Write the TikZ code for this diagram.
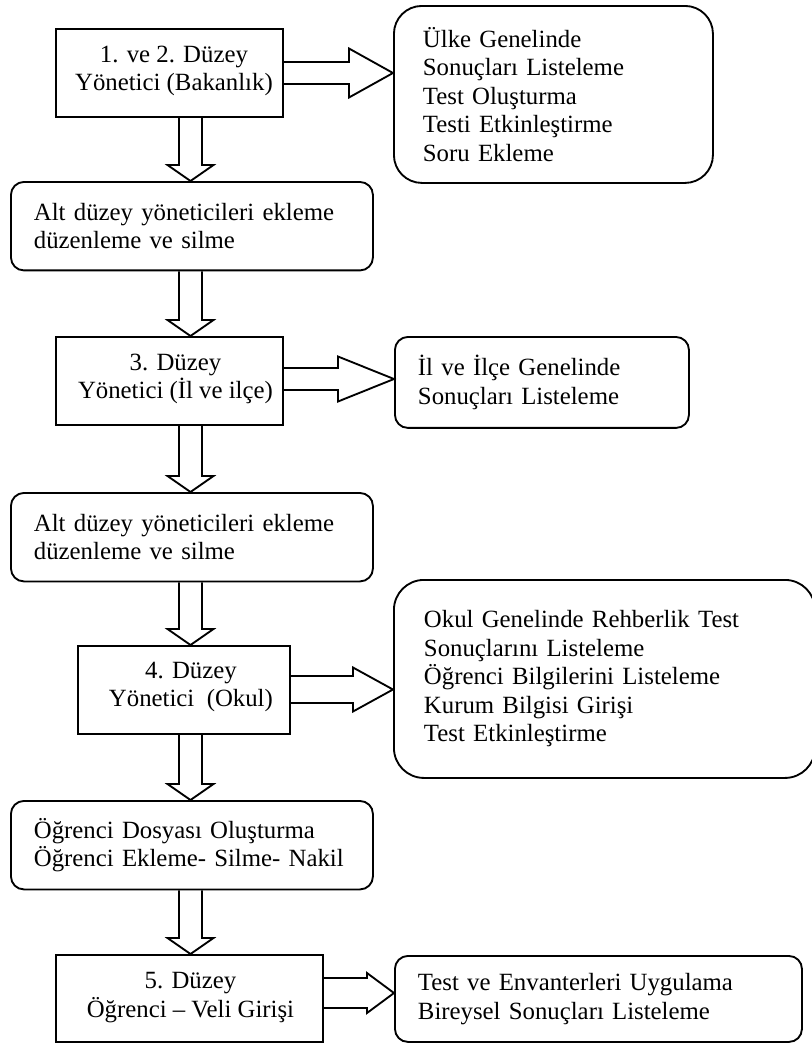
\documentclass[tikz,border=0pt]{standalone}
\usepackage{fontspec}
\setmainfont{Liberation Serif}
\usetikzlibrary{calc}
\tikzset{
  fnt/.style={font=\fontsize{12pt}{13.8pt}\selectfont},
  base/.style={draw, line width=0.9pt, inner ysep=0pt, fnt},
  rectb/.style={base, anchor=north west, minimum height=42.59pt},
  rtext/.style={fnt, align=center, inner sep=0pt},
  lbox/.style={base, anchor=north west, rounded corners=6.3pt, align=left,
               minimum width=175.21pt, minimum height=42.83pt, inner xsep=11.13pt, text width=152.94pt},
  rbox/.style={base, anchor=north west, align=left},
  blk/.style={draw, line width=0.9pt, line join=miter}
}
\newcommand\downblk[2]{%
  \path (190.5,0 |- #1.south) coordinate (dt) (190.5,0 |- #2.north) coordinate (dh);
  \draw[blk] ($(dt)+(-11.5,0)$) -- ($(dh)+(-11.5,-16)$) -- ($(dh)+(-23,-16)$) -- (dh)
     -- ($(dh)+(23,-16)$) -- ($(dh)+(11.5,-16)$) -- ($(dt)+(11.5,0)$);}
\newcommand\rightblk[6]{%
  \path (#1.east |- 0,#3) coordinate (rt) (#2.west |- 0,#3) coordinate (rh);
  \draw[blk] ($(rt)+(0,-#4)$) -- ($(rh)+(-#6,-#4)$) -- ($(rh)+(-#6,-#5)$) -- (rh)
     -- ($(rh)+(-#6,#5)$) -- ($(rh)+(-#6,#4)$) -- ($(rt)+(0,#4)$);}
\begin{document}
\begin{tikzpicture}[x=0.484pt, y=-0.484pt]
\useasboundingbox (0,0) rectangle (812,1043);

% left column
\node[rectb, minimum width=109.87pt] (b1) at (55,28) {};
\node[rtext] (b1t) at ($(b1.center)+(4.5,-2)$) {1. ve 2. Düzey\\Yönetici (Bakanlık)};
\node[lbox] (b2) at (10,181) {Alt düzey yöneticileri ekleme\\düzenleme ve silme};
\node[rectb, minimum width=109.87pt] (b3) at (55,336) {};
\node[rtext] (b3t) at ($(b3.center)+(6,-2)$) {3. Düzey\\Yönetici (İl ve ilçe)};
\node[lbox] (b4) at (10,492) {Alt düzey yöneticileri ekleme\\düzenleme ve silme};
\node[rectb, minimum width=102.61pt] (b5) at (77,645) {};
\node[rtext] (b5t) at ($(b5.center)+(7,-3)$) {4. Düzey\\Yönetici~ (Okul)};
\node[lbox] (b6) at (10,800) {Öğrenci Dosyası Oluşturma\\Öğrenci Ekleme- Silme- Nakil};
\node[rectb, minimum width=129.23pt, minimum height=42.1pt] (b7) at (55,954) {};
\node[rtext] (b7t) at ($(b7.center)+(1,-1)$) {5. Düzey\\Öğrenci – Veli Girişi};

% right column
\node[rbox, rounded corners=13.5pt, minimum width=154.4pt, minimum height=85.67pt,
      inner xsep=14.04pt, text width=126.3pt] (r1) at (393,5)
  {Ülke Genelinde\\Sonuçları Listeleme\\Test Oluşturma\\Testi Etkinleştirme\\Soru Ekleme};
\node[rbox, rounded corners=6.3pt, minimum width=142.3pt, minimum height=44.04pt,
      inner xsep=11.13pt, text width=120pt] (r3) at (394,336)
  {İl ve İlçe Genelinde\\Sonuçları Listeleme};
\node[rbox, rounded corners=14.5pt, minimum width=203.8pt, minimum height=95.83pt,
      inner xsep=14.52pt, text width=174.7pt] (r5) at (393,579)
  {Okul Genelinde Rehberlik Test\\Sonuçlarını Listeleme\\Öğrenci Bilgilerini Listeleme\\Kurum Bilgisi Girişi\\Test Etkinleştirme};
\node[rbox, rounded corners=6.3pt, minimum width=197pt, minimum height=41.62pt,
      inner xsep=11.13pt, text width=174.7pt] (r7) at (394,955)
  {Test ve Envanterleri Uygulama\\Bireysel Sonuçları Listeleme};

% down block arrows
\downblk{b1}{b2}
\downblk{b2}{b3}
\downblk{b3}{b4}
\downblk{b4}{b5}
\downblk{b5}{b6}
\downblk{b6}{b7}

% right block arrows
\rightblk{b1}{r1}{73}{11}{24.5}{44}
\rightblk{b3}{r3}{379}{11}{22.5}{56}
\rightblk{b5}{r5}{689.5}{13.5}{22}{40}
\rightblk{b7}{r7}{993}{15}{20}{27}
\end{tikzpicture}
\end{document}
